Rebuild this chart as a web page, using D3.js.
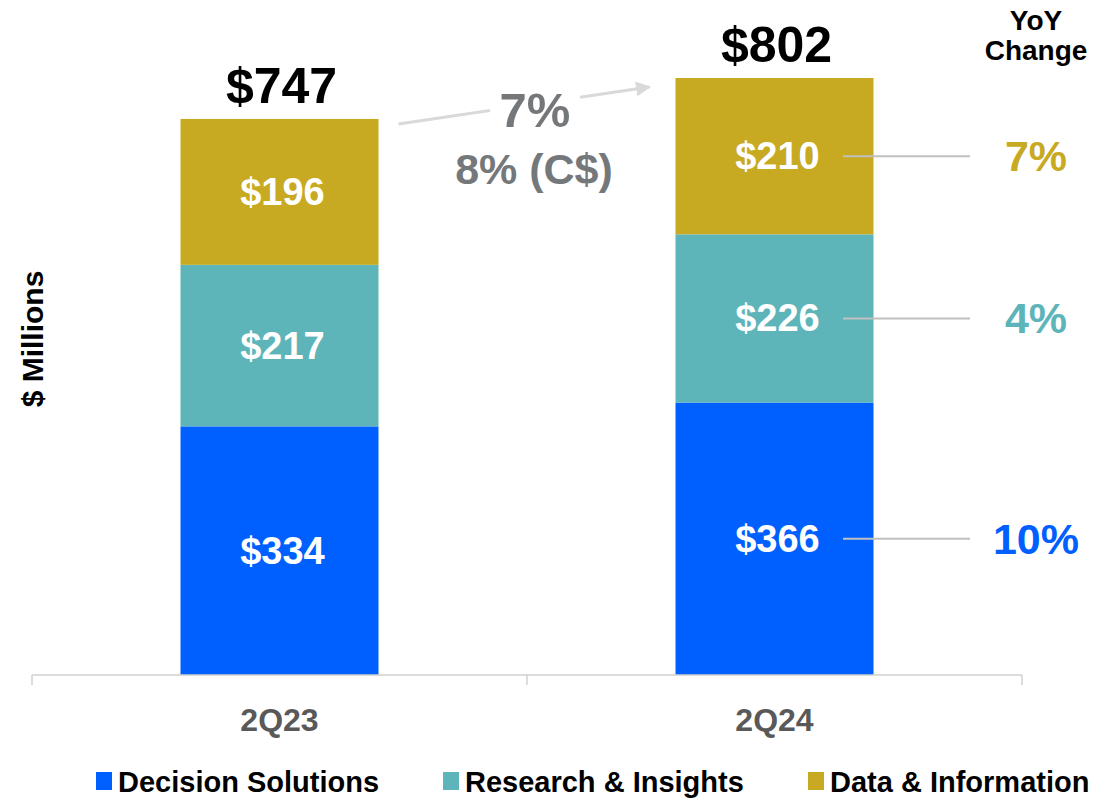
<!DOCTYPE html>
<html>
<head>
<meta charset="utf-8">
<script src="https://cdn.jsdelivr.net/npm/d3@7"></script>
<style>
  body { margin: 0; background: #fff; }
  text { font-family: "Liberation Sans", Arial, sans-serif; font-weight: bold; }
  .narrow { font-family: "Liberation Sans Narrow", "Liberation Sans", sans-serif; }
</style>
</head>
<body>
<div class="canvas"></div>
<script>
// Data
const categories = ['2Q23', '2Q24'];
const segments = ['Decision Solutions', 'Research & Insights', 'Data & Information'];
const colors = ['#0060FF', '#5DB5BA', '#C8AA22'];
const values = {
    '2Q23': [334, 217, 196],
    '2Q24': [366, 226, 210]
};
const totals = [747, 802];
const yoyChange = ['10%', '4%', '7%'];
const growthLabel = '7%';
const growthLabelCD = '8% (C$)';

const width = 1102, height = 799;
const baseline = 675;

const svg = d3.select('.canvas')
    .append('svg')
    .attr('width', width)
    .attr('height', height);

// Scales
const xScale = d3.scaleBand()
    .domain(categories)
    .range([32, 1022]);

const yScale = d3.scaleLinear()
    .domain([0, 802])
    .range([baseline, 78]);

const barWidth = xScale.bandwidth() * 0.4;

// Stack data
const stackData = categories.map(c => {
    const row = { cat: c };
    segments.forEach((s, i) => row[s] = values[c][i]);
    return row;
});
const series = d3.stack().keys(segments)(stackData);

// Bars
series.forEach((layer, i) => {
    svg.append('g')
        .selectAll('rect')
        .data(layer)
        .enter()
        .append('rect')
            .attr('x', d => xScale(d.data.cat) + (xScale.bandwidth() - barWidth) / 2)
            .attr('y', d => yScale(d[1]))
            .attr('width', barWidth)
            .attr('height', d => yScale(d[0]) - yScale(d[1]))
            .attr('fill', colors[i]);

    svg.append('g')
        .selectAll('text')
        .data(layer)
        .enter()
        .append('text')
            .attr('x', d => xScale(d.data.cat) + xScale.bandwidth() / 2 + 3)
            .attr('y', d => (yScale(d[0]) + yScale(d[1])) / 2 + 13)
            .attr('text-anchor', 'middle')
            .attr('fill', '#fff')
            .attr('font-size', 38)
            .text(d => `$${d[1] - d[0]}`);
});

// Totals
svg.append('g')
    .selectAll('text')
    .data(categories)
    .enter()
    .append('text')
        .attr('x', d => xScale(d) + xScale.bandwidth() / 2 + 2)
        .attr('y', (d, i) => yScale(totals[i]) - 16)
        .attr('text-anchor', 'middle')
        .attr('fill', '#000')
        .attr('font-size', 50)
        .text((d, i) => `$${totals[i]}`);

// X axis
const xAxisGroup = svg.append('g')
    .attr('transform', `translate(0, ${baseline})`);
xAxisGroup.append('line')
    .attr('x1', 32).attr('x2', 1022)
    .attr('stroke', '#d0d0d0').attr('stroke-width', 1.5);
const tickPositions = [32, ...categories.map(c => xScale(c) + xScale.bandwidth())];
xAxisGroup.selectAll('.tick')
    .data(tickPositions)
    .enter()
    .append('line')
        .attr('x1', d => d).attr('x2', d => d)
        .attr('y1', 0).attr('y2', 10)
        .attr('stroke', '#d0d0d0').attr('stroke-width', 1.5);
xAxisGroup.selectAll('.cat')
    .data(categories)
    .enter()
    .append('text')
        .attr('class', 'narrow')
        .attr('x', d => xScale(d) + xScale.bandwidth() / 2)
        .attr('y', 56)
        .attr('text-anchor', 'middle')
        .attr('fill', '#595959')
        .attr('font-size', 32)
        .text(d => d);

// Y label
svg.append('text')
    .attr('transform', 'translate(43, 339) rotate(-90)')
    .attr('text-anchor', 'middle')
    .attr('fill', '#000')
    .attr('font-size', 30)
    .text('$ Millions');

// Growth arrow
const defs = svg.append('defs');
defs.append('marker')
    .attr('id', 'arrow')
    .attr('viewBox', '0 0 10 10')
    .attr('refX', 9).attr('refY', 5)
    .attr('markerWidth', 5).attr('markerHeight', 5)
    .attr('orient', 'auto')
    .append('path')
        .attr('d', 'M0,0 L10,5 L0,10 Z')
        .attr('fill', '#d9d9d9');

const x1 = xScale(categories[0]) + (xScale.bandwidth() + barWidth) / 2 + 20;
const x2 = xScale(categories[1]) + (xScale.bandwidth() - barWidth) / 2 - 26;
const y1 = yScale(totals[0]) + 5, y2 = yScale(totals[1]) + 9;
const lineY = x => y1 + (y2 - y1) * (x - x1) / (x2 - x1);
svg.append('line')
    .attr('x1', x1).attr('y1', y1)
    .attr('x2', 490).attr('y2', lineY(490))
    .attr('stroke', '#d9d9d9').attr('stroke-width', 3);
svg.append('line')
    .attr('x1', 580).attr('y1', lineY(580))
    .attr('x2', x2).attr('y2', y2)
    .attr('stroke', '#d9d9d9').attr('stroke-width', 3)
    .attr('marker-end', 'url(#arrow)');

svg.append('text')
    .attr('x', 535).attr('y', 127)
    .attr('text-anchor', 'middle')
    .attr('fill', '#75787B')
    .attr('font-size', 49)
    .text(growthLabel);
svg.append('text')
    .attr('x', 534).attr('y', 184)
    .attr('text-anchor', 'middle')
    .attr('fill', '#75787B')
    .attr('font-size', 43)
    .text(growthLabelCD);

// YoY column
svg.append('text')
    .attr('x', 1036).attr('y', 30)
    .attr('text-anchor', 'middle')
    .attr('font-size', 28)
    .text('YoY');
svg.append('text')
    .attr('x', 1036).attr('y', 60)
    .attr('text-anchor', 'middle')
    .attr('font-size', 28)
    .text('Change');

const lastLayer = series.map(layer => layer[1]);
svg.append('g')
    .selectAll('line')
    .data(lastLayer)
    .enter()
    .append('line')
        .attr('x1', 843).attr('x2', 970)
        .attr('y1', d => (yScale(d[0]) + yScale(d[1])) / 2)
        .attr('y2', d => (yScale(d[0]) + yScale(d[1])) / 2)
        .attr('stroke', '#c0c0c0').attr('stroke-width', 2);
svg.append('g')
    .selectAll('text')
    .data(lastLayer)
    .enter()
    .append('text')
        .attr('x', 1036)
        .attr('y', d => (yScale(d[0]) + yScale(d[1])) / 2 + 15)
        .attr('text-anchor', 'middle')
        .attr('fill', (d, i) => colors[i])
        .attr('font-size', 43)
        .text((d, i) => yoyChange[i]);

// Legend
const legendX = [96, 443, 808];
const legend = svg.append('g')
    .selectAll('g')
    .data(segments)
    .enter()
    .append('g')
        .attr('transform', (d, i) => `translate(${legendX[i]}, 782)`);
legend.append('rect')
    .attr('x', 0).attr('y', -10)
    .attr('width', 16).attr('height', 18)
    .attr('fill', (d, i) => colors[i]);
legend.append('text')
    .attr('class', 'narrow')
    .attr('x', 22).attr('y', 10)
    .attr('font-size', 29)
    .attr('fill', '#000')
    .text(d => d);
</script>
</body>
</html>
